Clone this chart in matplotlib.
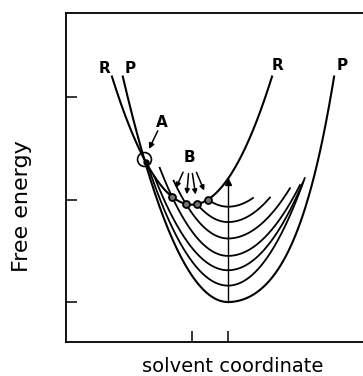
import numpy as np
import matplotlib.pyplot as plt

# --- schematic free energy curves vs solvent coordinate (arbitrary units) ---
r_min_x, r_min_y = 0.0, 0.95      # reactant (R) minimum
p_min_x, p_min_y = 0.351, 0.0     # product (P) minimum
r_curv = 2.05
p_curv_left = 2.09
p_curv_right = [1.13, 0.86]       # d^2 and d^4 terms, right branch of P
top_level = 2.2                   # outer R and P curves stop here

# intermediate curves, minima on the vertical line through the P minimum
levels = [0.93, 0.78, 0.62, 0.45, 0.31, 0.16]
curv_right = [1.43, 1.43, 1.34, 1.40, 1.60, 1.87]
right_end = [0.595, 0.76, 0.956, 1.054, 1.083, 1.10]
meet_x = [0.156, 0.049, -0.059, -0.195, -0.37, -0.43]   # where they meet R
left_ext = [0.0, 0.0, 0.12, 0.12, 0.0, 0.0]
b_points = [0, 1, 2, 3]           # curves whose crossing with R is marked (B)

yticks = [0, 1, 2]
xticks = [r_min_x, p_min_x]


def r_curve(x):
    return r_min_y + r_curv * (x - r_min_x) ** 2


def p_curve(x):
    d = x - p_min_x
    right = p_curv_right[0] * d ** 2 + p_curv_right[1] * d ** 4
    return p_min_y + np.where(d < 0, p_curv_left * d ** 2, right)


fig = plt.figure(figsize=(3.63, 3.76), dpi=100)
# right edge of the frame lies outside the picture (cropped scan)
ax = fig.add_axes([66 / 363, 34 / 376, 315 / 363, 329 / 376])
ax.set_xlim(-1.229, 1.844)
ax.set_ylim(-0.39, 2.82)

lw = 1.5
# R curve
half = np.sqrt((top_level - r_min_y) / r_curv)
xr = np.linspace(r_min_x - half, r_min_x + half, 300)
ax.plot(xr, r_curve(xr), color="black", lw=lw)

# P curve
p_left = p_min_x - np.sqrt((top_level - p_min_y) / p_curv_left)
u = (-p_curv_right[0] + np.sqrt(p_curv_right[0] ** 2 + 4 * p_curv_right[1] * (top_level - p_min_y))) / (2 * p_curv_right[1])
p_right = p_min_x + np.sqrt(u)
xp = np.linspace(p_left, p_right, 300)
ax.plot(xp, p_curve(xp), color="black", lw=lw)

# intermediate curves
for i, lev in enumerate(levels):
    k_left = (r_curve(meet_x[i]) - lev) / (meet_x[i] - p_min_x) ** 2
    x = np.linspace(meet_x[i] - left_ext[i], right_end[i], 200)
    d = x - p_min_x
    y = lev + np.where(d < 0, k_left, curv_right[i]) * d ** 2
    ax.plot(x, y, color="black", lw=1.3)

# vertical line from P minimum up to the R curve
ax.plot([p_min_x, p_min_x], [p_min_y, r_curve(p_min_x)], color="black", lw=1.0)
ax.plot(p_min_x, r_curve(p_min_x) - 0.03, marker="^", ms=5, color="black")

# crossing of R and P (A)
a = p_curv_left - r_curv
b = -2 * p_curv_left * p_min_x
c = p_curv_left * p_min_x ** 2 + p_min_y - r_min_y
xa = (-b - np.sqrt(b * b - 4 * a * c)) / (2 * a)
ya = r_curve(xa)
ax.plot(xa, ya, marker="o", ms=10, mfc="none", mec="black", mew=1.2)
ax.plot(xa + 0.02, ya - 0.03, marker="o", ms=3.5, color="black")
ax.annotate("", xy=(xa, ya), xytext=(-0.293, 1.756),
            arrowprops=dict(arrowstyle="-|>", color="black", lw=1.1,
                            mutation_scale=8, shrinkA=7, shrinkB=8))
ax.text(-0.293, 1.756, "A", ha="center", va="center", fontsize=11, fontweight="bold")

# B points on the R curve
bx = np.array([meet_x[i] for i in b_points])
by = r_curve(bx)
ax.plot(bx, by, "o", ms=5, mfc="0.45", mec="black", mew=1.3)
for x0, y0 in zip(bx, by):
    ax.annotate("", xy=(x0, y0), xytext=(-0.02, 1.415),
                arrowprops=dict(arrowstyle="-|>", color="black", lw=1.1,
                                mutation_scale=7, shrinkA=12, shrinkB=7))
ax.text(-0.02, 1.415, "B", ha="center", va="center", fontsize=11, fontweight="bold")

# curve labels
lab = dict(textcoords="offset points", ha="center", va="center",
           fontsize=11, fontweight="bold")
ax.annotate("R", (r_min_x - half, top_level), xytext=(-5, 6), **lab)
ax.annotate("P", (p_left, top_level), xytext=(5, 6), **lab)
ax.annotate("R", (r_min_x + half, top_level), xytext=(4, 8), **lab)
ax.annotate("P", (p_right, top_level), xytext=(6, 8), **lab)

# frame and ticks
ax.set_xticks(xticks)
ax.set_yticks(yticks)
ax.set_xticklabels([])
ax.set_yticklabels([])
ax.tick_params(direction="in", length=8, width=1.1)
for side in ["left", "bottom", "top"]:
    ax.spines[side].set_linewidth(1.3)
ax.spines["right"].set_visible(False)

fig.text(22 / 363, 1 - 206 / 376, "Free energy", rotation=90,
         ha="center", va="center", fontsize=16)
fig.text(233 / 363, 1 - 366 / 376, "solvent coordinate",
         ha="center", va="center", fontsize=14)

fig.savefig("out.png", dpi=100)
